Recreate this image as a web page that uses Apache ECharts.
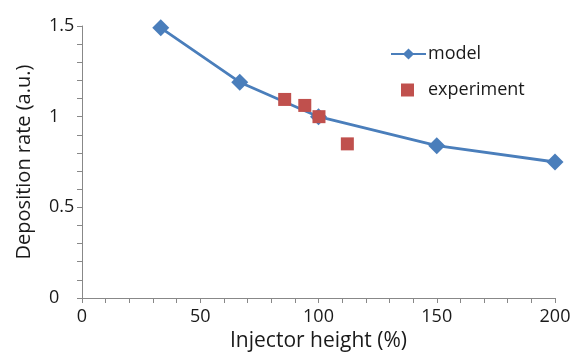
<!DOCTYPE html>
<html>
<head>
<meta charset="utf-8">
<script src="https://cdn.jsdelivr.net/npm/echarts@6/dist/echarts.min.js"></script>
<style>
  html, body { margin: 0; padding: 0; background: #fff; }
  #main { width: 571px; height: 353px; }
</style>
</head>
<body>
<div id="main"></div>
<script>
    // injector height (%) vs deposition rate
    var modelX = [33.3, 66.7, 100, 150, 200];
    var modelY = [1.49, 1.19, 1.0, 0.84, 0.75];
    var expX = [85.7, 94.2, 100.2, 112.2];
    var expY = [1.095, 1.062, 1.0, 0.85];

    var blue = '#4A7EBB';
    var red = '#C0504D';
    var fontName = 'Open Sans';

    function pairs(xs, ys) {
        var out = [];
        for (var i = 0; i < xs.length; i++) {
            out.push([xs[i], ys[i]]);
        }
        return out;
    }

    var myChart = echarts.init(document.getElementById('main'));

    var option = {
        animation: false,
        backgroundColor: '#fff',
        textStyle: { fontFamily: fontName },
        grid: { left: 82, right: 16, top: 26, bottom: 55, outerBoundsMode: 'none' },
        legend: [
            {
                data: ['model'],
                left: 385,
                top: 40,
                itemWidth: 35,
                itemHeight: 14,
                textStyle: { fontSize: 18, color: '#1a1a1a', fontFamily: fontName, padding: [0, 0, 0, -3] }
            },
            {
                data: [{ name: 'experiment', icon: 'rect' }],
                left: 396,
                top: 76,
                itemWidth: 13,
                itemHeight: 13,
                textStyle: { fontSize: 18, color: '#1a1a1a', fontFamily: fontName, padding: [0, 0, 0, 9] }
            }
        ],
        xAxis: {
            type: 'value',
            min: 0,
            max: 200,
            interval: 50,
            name: 'Injector height (%)',
            nameLocation: 'middle',
            nameGap: 33,
            nameTextStyle: { fontSize: 21, color: '#1a1a1a', fontFamily: fontName },
            axisLine: { lineStyle: { color: '#888', width: 1 } },
            axisTick: { show: true, length: 5, lineStyle: { color: '#888' } },
            minorTick: { show: true, splitNumber: 5, length: 5, lineStyle: { color: '#888' } },
            axisLabel: { fontSize: 18, color: '#1a1a1a', margin: 10 },
            splitLine: { show: false }
        },
        yAxis: {
            type: 'value',
            min: 0,
            max: 1.5,
            interval: 0.5,
            name: 'Deposition rate (a.u.)',
            nameLocation: 'middle',
            nameGap: 48,
            nameTextStyle: { fontSize: 20, color: '#1a1a1a', fontFamily: fontName },
            axisLine: { show: true, lineStyle: { color: '#888', width: 1 } },
            axisTick: { show: true, length: 5, lineStyle: { color: '#888' } },
            minorTick: { show: true, splitNumber: 5, length: 5, lineStyle: { color: '#888' } },
            axisLabel: { fontSize: 18, color: '#1a1a1a', margin: 33, align: 'left' },
            splitLine: { show: false }
        },
        series: [
            {
                name: 'model',
                type: 'line',
                data: pairs(modelX, modelY),
                symbol: 'diamond',
                symbolSize: 17,
                lineStyle: { color: blue, width: 2.8 },
                itemStyle: { color: blue },
                z: 2
            },
            {
                name: 'experiment',
                type: 'scatter',
                data: pairs(expX, expY),
                symbol: 'rect',
                symbolSize: 13,
                itemStyle: { color: red, opacity: 1 },
                z: 3
            }
        ]
    };

    myChart.setOption(option);
</script>
</body>
</html>
